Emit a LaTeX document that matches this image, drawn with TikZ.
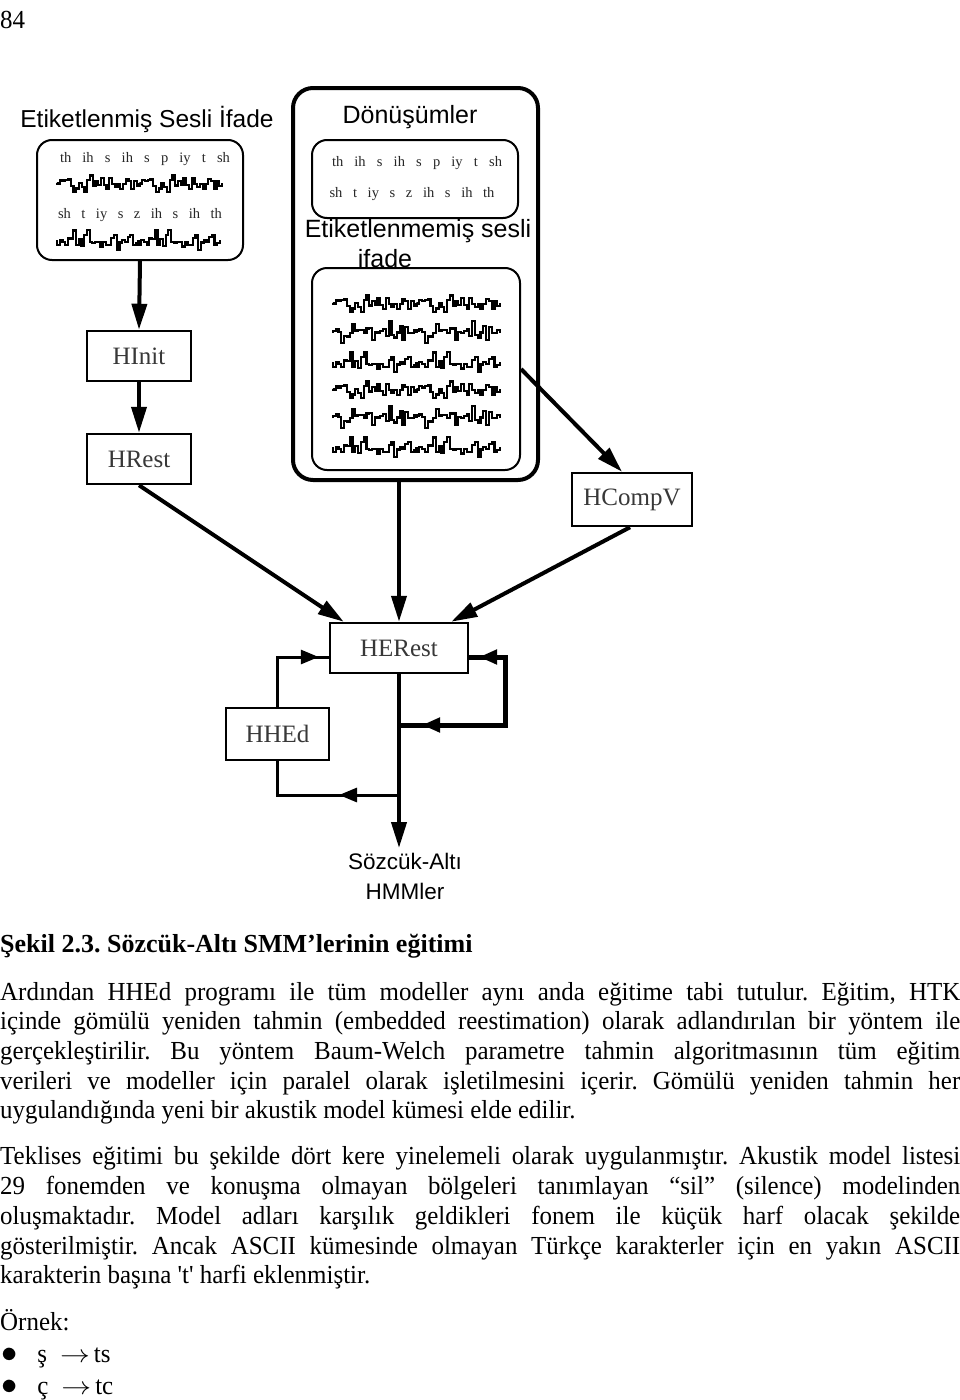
\documentclass[tikz,border=0pt]{standalone}
\usepackage{fontspec}
\setmainfont{Liberation Serif}
\setsansfont{Liberation Sans}
\newfontfamily\bodyfont[FakeStretch=0.96]{Liberation Serif}
\newfontfamily\capfont[FakeStretch=1.0]{Liberation Serif}
\usetikzlibrary{arrows.meta,calc,decorations.markings}

\newcommand{\halfwave}[4]{%
  \pgfmathsetseed{#4}%
  \draw[wave] (#1,#3) \foreach \i in {1,...,30}{ |- ({#1+\i*(#2-#1)/30},{#3+12*rand*(0.2+0.8*abs(sin(\i*31+#4*7)))}) } |- (#2,#3);
}
\newcommand{\wavy}[4]{%
  \pgfmathsetmacro{\wmid}{(#1+#2)/2}%
  \halfwave{#1}{\wmid}{#3}{#4}%
  \halfwave{\wmid}{#2}{#3}{#4}%
}
\newcommand{\jl}[1]{\makebox[960pt][s]{#1}}
\tikzset{tipL/.tip={Triangle[length=18pt,width=14pt]}}

\begin{document}
\frenchspacing
\begin{tikzpicture}[x=1pt,y=-1pt,
  prog/.style={draw, line width=2.5pt, inner sep=0, font=\fontsize{25}{28}\selectfont, text=black!78},
  rbox/.style={draw, line width=2pt, rounded corners=15pt, inner sep=0},
  title/.style={font=\sffamily\fontsize{25}{28}\selectfont, inner sep=0},
  lab/.style={font=\fontsize{14.5}{16}\selectfont, inner sep=0, text=black!85},
  wave/.style={line width=2.2pt, line join=miter},
  bigarrow/.style={line width=4pt, -{Triangle[length=26pt,width=15pt]}},
  body/.style={anchor=base west, inner sep=0, font=\bodyfont\fontsize{26}{30}\selectfont}
]
\useasboundingbox (0,0) rectangle (960,1400);
\fill[white] (0,0) rectangle (960,1400);

% page number
\node[body] (pg) at (0,28) {84};

% left labelled box
\node[title, font=\sffamily\fontsize{24.5}{28}\selectfont] (t1) at (147,119) {Etiketlenmiş Sesli İfade};
\node[rbox, minimum width=206pt, minimum height=120pt] (lbox) at (140,200) {};
\node[lab] (l1) at (145,159) {\makebox[170pt][s]{th ih s ih s p iy t sh}};
\node[lab] (l2) at (140,215) {\makebox[164pt][s]{sh t iy s z ih s ih th}};
\wavy{57}{222}{183}{11}
\wavy{57}{220}{240}{37}

% outer box
\node[draw, line width=4pt, rounded corners=20pt, minimum width=245pt, minimum height=392pt, inner sep=0] (obox) at (415.5,284) {};
\node[title] (t2) at (410,117) {Dönüşümler};
\node[rbox, minimum width=206pt, minimum height=78pt] (tbox) at (415,179) {};
\node[lab] (l3) at (417,163) {\makebox[170pt][s]{th ih s ih s p iy t sh}};
\node[lab] (l4) at (412,194) {\makebox[165pt][s]{sh t iy s z ih s ih th}};
\node[title] (t3) at (418,231) {Etiketlenmemiş sesli};
\node[title] (t4) at (385,259) {ifade};
\node[rbox, minimum width=208pt, minimum height=202pt] (wbox) at (416,369) {};
\wavy{333}{500}{303}{11}
\wavy{333}{500}{333}{23}
\wavy{333}{500}{362}{37}
\wavy{333}{500}{389}{11}
\wavy{333}{500}{418}{23}
\wavy{333}{500}{447}{37}

% program boxes
\node[prog, minimum width=104pt, minimum height=50pt] (hinit) at (139,356) {HInit};
\node[prog, minimum width=104pt, minimum height=50pt] (hrest) at (139,459) {HRest};
\node[prog, minimum width=120pt, minimum height=53pt] (hcompv) at (632,499.5) {HCompV};
\node[prog, minimum width=138pt, minimum height=50pt] (herest) at (399,648) {HERest};
\node[prog, minimum width=103pt, minimum height=52pt] (hhed) at (277.5,734) {HHEd};
\node[title, align=center, anchor=north, font=\sffamily\fontsize{22.5}{30}\selectfont] (out) at (405,853) {Sözcük-Altı\\HMMler};

% connectors
\draw[bigarrow] (lbox.south) -- (hinit.north);
\draw[bigarrow] (hinit.south) -- (hrest.north);
\draw[bigarrow] (hrest.south) -- ($(herest.north west)+(15,0)$);
\draw[bigarrow] (obox.south -| herest.north) -- (herest.north);
\draw[bigarrow] (wbox.east) -- ($(hcompv.north)+(-10,0)$);
\draw[bigarrow] ($(hcompv.south)+(-2,0)$) -- ($(herest.north east)+(-18,0)$);
\draw[bigarrow] (herest.south) -- (herest.south |- 0,848);

\coordinate (rj) at (399,725);
\coordinate (lj) at (399,795);
\draw[line width=5pt, line join=miter, postaction={decorate},
  decoration={markings,
    mark=at position 23pt with {\arrowreversed{tipL}},
    mark=at position 200pt with {\arrow{tipL}}}]
  (rj) -- (505,725) -- (505,657) -- ($(herest.east)+(0,9)$);
\draw[line width=3pt, line join=miter, postaction={decorate},
  decoration={markings, mark=at position 60pt with {\arrow{tipL}}}]
  (lj) -- (lj -| hhed.south) -- (hhed.south);
\draw[line width=3pt, line join=miter, postaction={decorate},
  decoration={markings, mark=at position 91pt with {\arrow{tipL}}}]
  (hhed.north) -- (277.5,657) -- ($(herest.west)+(0,9)$);

% caption and text
\node[body, font=\capfont\bfseries\fontsize{26}{30}\selectfont] (cap) at (0,952) {Şekil 2.3. Sözcük-Altı SMM’lerinin eğitimi};
\node[body] (p1a) at (0,1000) {\jl{Ardından HHEd programı ile tüm modeller aynı anda eğitime tabi tutulur. Eğitim, HTK}};
\node[body] (p1b) at (0,1029) {\jl{içinde gömülü yeniden tahmin (embedded reestimation) olarak adlandırılan bir yöntem ile}};
\node[body] (p1c) at (0,1059) {\jl{gerçekleştirilir. Bu yöntem Baum-Welch parametre tahmin algoritmasının tüm eğitim}};
\node[body] (p1d) at (0,1089) {\jl{verileri ve modeller için paralel olarak işletilmesini içerir. Gömülü yeniden tahmin her}};
\node[body] (p1e) at (0,1118) {uygulandığında yeni bir akustik model kümesi elde edilir.};
\node[body] (p2a) at (0,1164) {\jl{Teklises eğitimi bu şekilde dört kere yinelemeli olarak uygulanmıştır. Akustik model listesi}};
\node[body] (p2b) at (0,1194) {\jl{29 fonemden ve konuşma olmayan bölgeleri tanımlayan “sil” (silence) modelinden}};
\node[body] (p2c) at (0,1224) {\jl{oluşmaktadır. Model adları karşılık geldikleri fonem ile küçük harf olacak şekilde}};
\node[body] (p2d) at (0,1254) {\jl{gösterilmiştir. Ancak ASCII kümesinde olmayan Türkçe karakterler için en yakın ASCII}};
\node[body] (p2e) at (0,1283) {karakterin başına 't' harfi eklenmiştir.};
\node[body] (ex) at (0,1330) {Örnek:};
\node[body] (b1) at (1,1362) {\scalebox{1.3}{$\bullet$}\hspace{20pt}ş\hspace{13pt}\scalebox{1.2}[1]{$\rightarrow$}\hspace{4pt}ts};
\node[body] (b2) at (1,1394) {\scalebox{1.3}{$\bullet$}\hspace{20pt}ç\hspace{13pt}\scalebox{1.2}[1]{$\rightarrow$}\hspace{4pt}tc};
\end{tikzpicture}
\end{document}
